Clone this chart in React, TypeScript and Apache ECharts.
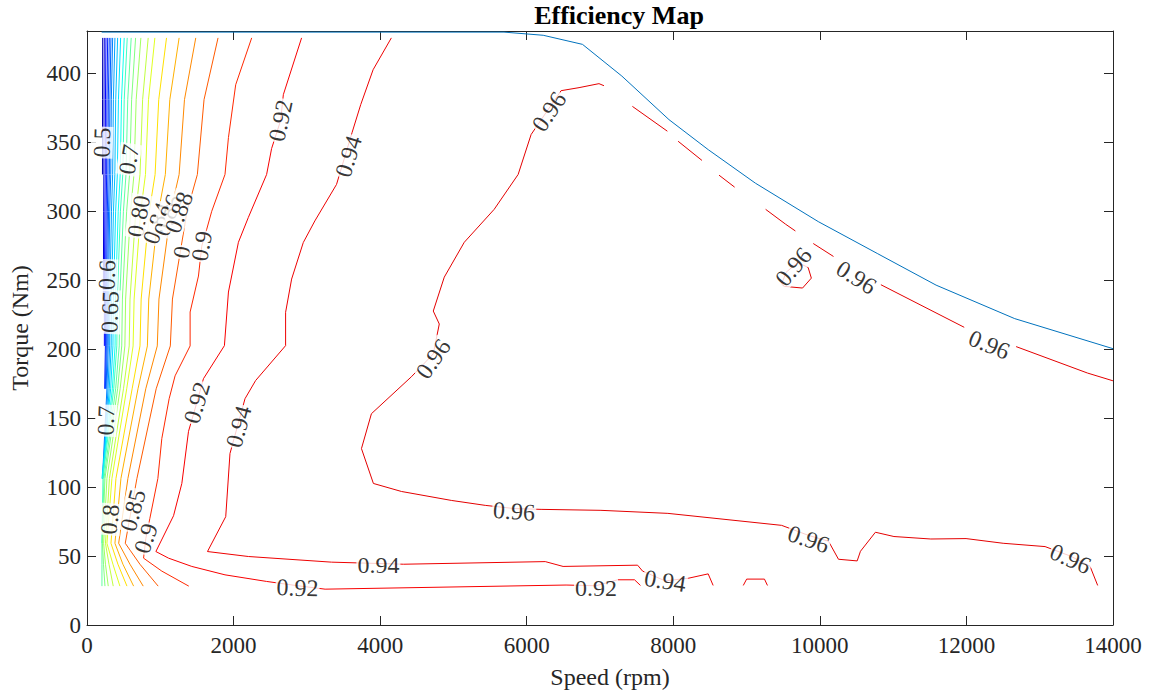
import { useEffect, useRef } from 'react';
import * as echarts from 'echarts';

const FONT = "'Liberation Serif', 'Times New Roman', Times, serif";
const AXIS_COLOR = '#262626';

// Torque rows (Nm) at which the low-efficiency contour lines were read
const TORQUE_ROWS = [426.0, 381.2, 326.9, 300.2, 236.5, 202.5, 171.4, 106.3, 59.3, 44.1, 28.2];

// Speed (rpm) of each low-level contour at the torque rows above (null = line absent)
const LOW_LEVEL_SPEEDS: (number | null)[][] = [
  [214, 212, 211],
  [236, 232, 230, 227, 223],
  [259, 252, 249, 244, 237, 237],
  [282, 272, 268, 261, 252, 251, 241],
  [304, 291, 286, 278, 264, 263, 251],
  [327, 312, 305, 294, 279, 276, 261],
  [350, 332, 324, 310, 293, 290, 272, 211],
  [381, 360, 350, 334, 312, 309, 287, 214],
  [418, 392, 380, 361, 334, 330, 304, 218],
  [459, 429, 414, 391, 360, 354, 323, 204],
  [508, 471, 453, 426, 388, 383, 346, 211],
  [549, 508, 488, 456, 414, 407, 365, 218, 204],
  [603, 556, 532, 497, 447, 440, 391, 232, 204, 204, 204],
  [663, 609, 581, 541, 483, 474, 418, 245, 211, 225, 245],
  [735, 671, 641, 594, 527, 517, 452, 272, 227, 252, 290],
  [835, 759, 723, 666, 587, 576, 498, 306, 252, 300, 358],
  [926, 839, 798, 733, 643, 629, 542, 340, 272, 354, 449],
  [1085, 979, 929, 850, 739, 723, 616, 395, 327, 422, 545],
  [1257, 1130, 1069, 976, 843, 824, 696, 463, 381, 490, 636],
  [1484, 1330, 1257, 1143, 982, 959, 802, 558, 432, 586, 767],
  [1788, 1597, 1506, 1365, 1166, 1137, 944, 681, 522, 722, 971],
];

const LOW_LEVEL_COLORS = [
  '#0000b0', '#0000d8', '#0000ff', '#0020ff', '#0040ff', '#0060ff', '#0080ff',
  '#00a0ff', '#00c0ff', '#00e0ff', '#10fff0', '#40ffc0', '#60ffa0', '#80ff80',
  '#a0ff60', '#c0ff40', '#e0ff20', '#ffe000', '#ffb000', '#ff8800', '#ff5a00',
];

// [speed rpm, torque Nm]
const CONTOUR_090: number[][] = [
  [2247, 426.0], [2029, 392.0], [1930, 353.7], [1883, 326.9], [1702, 300.2], [1634, 287.2],
  [1566, 274.9], [1521, 253.2], [1407, 227.1], [1407, 202.5], [1202, 180.8], [1121, 164.2],
  [1021, 135.3], [967, 106.3], [858, 77.4], [803, 62.9], [772, 48.5], [1021, 39.1], [1389, 28.2],
];

const CONTOUR_092: number[][] = [
  [2928, 426.0], [2679, 384.8], [2642, 366.0], [2519, 345.7], [2451, 326.9], [2202, 295.8],
  [2066, 277.7], [1930, 241.6], [1875, 202.7], [1589, 178.7], [1498, 161.3], [1385, 140.5],
  [1294, 102.7], [1181, 79.3], [940, 53.3], [1113, 48.5], [1430, 42.5], [1883, 36.4],
  [2451, 31.6], [2873, 28.5], [3249, 26.0], [6537, 29.0], [6945, 28.5], [7242, 32.8],
  [7471, 32.8], [7552, 28.7],
];

const CONTOUR_094: number[][] = [
  [4153, 426.0], [3904, 402.9], [3735, 377.6], [3618, 357.5], [3405, 319.7], [3109, 293.2],
  [2951, 277.5], [2792, 251.0], [2710, 226.9], [2710, 202.7], [2301, 177.4], [2156, 164.2],
  [1951, 124.4], [1893, 78.6], [1644, 53.3], [2202, 49.7], [3336, 45.6], [4321, 44.1],
  [6253, 46.0], [6496, 42.5], [7513, 43.4], [7581, 39.1], [7890, 32.0], [8212, 34.0],
  [8476, 37.1], [8544, 28.7],
];

const CONTOUR_094_ISLAND: number[][] = [
  [8955, 28.7], [9001, 33.3], [9244, 33.3], [9285, 28.7],
];

const CONTOUR_096: number[][] = [
  [7054, 391.3], [6986, 392.8], [6714, 389.9], [6469, 387.7], [6264, 371.8], [6060, 355.9],
  [5883, 326.9], [5556, 301.6], [5148, 277.7], [4875, 252.4], [4725, 227.8], [4807, 218.4],
  [4725, 196.7], [4426, 180.1], [3881, 153.3], [3745, 128.0], [3908, 102.7], [4290, 96.9],
  [4971, 90.4], [5434, 86.8], [5828, 84.5], [6196, 83.9], [7013, 83.2], [7926, 81.0],
  [9478, 72.3], [9846, 65.0], [10118, 60.8], [10254, 47.7], [10509, 46.5], [10554, 53.5],
  [10758, 67.3], [11011, 64.2], [11514, 62.4], [11995, 62.7], [12501, 59.3], [13073, 56.9],
  [13420, 50.0], [13686, 42.7], [13791, 28.7],
];

const CONTOUR_096_LOOP: number[][] = [
  [9478, 247.4], [9515, 245.7], [9764, 244.5], [9884, 251.7], [9840, 259.4], [9700, 263.0],
  [9540, 256.0], [9478, 247.4],
];

const CONTOUR_096_UPPER: number[][][] = [
  [[7442, 376.3], [7919, 358.3]],
  [[8066, 351.0], [8391, 337.1]],
  [[8624, 326.4], [8837, 317.7]],
  [[9260, 301.6], [9533, 290.8], [9666, 285.9]],
  [[9910, 276.8], [10186, 267.4]],
  [[10833, 246.9], [11970, 216.0]],
  [[12678, 202.0], [13653, 182.8], [13999, 177.2]],
];

const MAX_TORQUE: number[][] = [
  [200, 430.2], [5690, 430.2], [6225, 427.9], [6761, 421.3], [7298, 398.3], [7941, 366.7],
  [8477, 344.9], [9120, 320.6], [9978, 292.7], [10783, 269.6], [11586, 246.6], [12659, 222.3],
  [14000, 200.5],
];

// contour labels: text, speed, torque, angle (deg)
const CONTOUR_LABELS: [string, number, number, number][] = [
  ['0.5', 204, 350.1, 88],
  ['0.7', 572, 337.8, 80],
  ['0.80', 708, 296.6, 80],
  ['0.84', 953, 291.5, 70],
  ['0.86', 1103, 297.3, 70],
  ['0.88', 1253, 299.4, 70],
  ['0', 1294, 270.5, 80],
  ['0.9', 1566, 274.9, 80],
  ['0.92', 2642, 366.0, 78],
  ['0.94', 3568, 340.0, 73],
  ['0.96', 6305, 372.5, 56],
  ['0.6', 272, 253.9, 88],
  ['0.65', 313, 227.1, 88],
  ['0.7', 259, 148.3, 88],
  ['0.8', 313, 76.7, 85],
  ['0.85', 626, 83.2, 75],
  ['0.9', 803, 62.9, 72],
  ['0.92', 1498, 161.3, 74],
  ['0.94', 2070, 143.9, 75],
  ['0.96', 4725, 193.1, 55],
  ['0.96', 5828, 82.5, -4],
  ['0.92', 2873, 27.0, -2],
  ['0.94', 3976, 43.5, 0],
  ['0.92', 6945, 27.0, 0],
  ['0.94', 7890, 32.0, -9],
  ['0.96', 9846, 62.2, -19],
  ['0.96', 13420, 48.0, -24],
  ['0.96', 9640, 260.0, 50],
  ['0.96', 10498, 252.2, -32],
  ['0.96', 12311, 203.4, -22],
];

function lineSeries(data: number[][], color: string) {
  return {
    type: 'line',
    data,
    showSymbol: false,
    symbol: 'none',
    silent: true,
    xAxisIndex: 0,
    yAxisIndex: 0,
    lineStyle: { color, width: 1 },
    z: 2,
  };
}

export default function App() {
  const ref = useRef<HTMLDivElement>(null);

  useEffect(() => {
    if (!ref.current) return;
    const chart = echarts.init(ref.current, undefined, { renderer: 'svg' });

    const series: any[] = [];
    LOW_LEVEL_SPEEDS.forEach((speeds, i) => {
      const pts: number[][] = [];
      speeds.forEach((s, k) => {
        if (s !== null && s !== undefined) pts.push([s, TORQUE_ROWS[k]]);
      });
      series.push(lineSeries(pts, LOW_LEVEL_COLORS[i]));
    });
    series.push(lineSeries(CONTOUR_090, '#ff2800'));
    series.push(lineSeries(CONTOUR_092, '#f80000'));
    series.push(lineSeries(CONTOUR_094, '#ee0000'));
    series.push(lineSeries(CONTOUR_094_ISLAND, '#ee0000'));
    series.push(lineSeries(CONTOUR_096, '#e40000'));
    series.push(lineSeries(CONTOUR_096_LOOP, '#e40000'));
    CONTOUR_096_UPPER.forEach((seg) => series.push(lineSeries(seg, '#e40000')));
    series.push(lineSeries(MAX_TORQUE, '#0072bd'));

    series.push({
      type: 'scatter',
      silent: true,
      symbol: 'circle',
      symbolSize: 1,
      itemStyle: { color: 'rgba(0,0,0,0)' },
      z: 10,
      data: CONTOUR_LABELS.map(([text, s, t, a]) => ({
        value: [s, t],
        name: text,
        label: { rotate: a },
      })),
      label: {
        show: true,
        position: 'inside',
        formatter: '{b}',
        color: '#000',
        fontFamily: FONT,
        fontSize: 24,
        backgroundColor: '#ffffff',
        padding: [-1, 1],
      },
      labelLayout: { hideOverlap: false },
    });

    const tickCommon = {
      show: true,
      inside: true,
      length: 9,
      lineStyle: { color: AXIS_COLOR, width: 1 },
    };
    const lineCommon = { show: true, onZero: false, lineStyle: { color: AXIS_COLOR, width: 1 } };

    chart.setOption({
      animation: false,
      backgroundColor: '#ffffff',
      graphic: [
        {
          type: 'text',
          x: 619,
          y: 2,
          style: {
            text: 'Efficiency Map',
            fontFamily: FONT,
            fontWeight: 'bold',
            fontSize: 26,
            fill: '#000',
            textAlign: 'center',
            textVerticalAlign: 'top',
          },
        },
      ],
      grid: { left: 85, right: 50, top: 31, bottom: 67, containLabel: false },
      xAxis: [
        {
          type: 'value',
          min: 0,
          max: 14000,
          interval: 2000,
          position: 'bottom',
          axisLine: lineCommon,
          axisTick: tickCommon,
          splitLine: { show: false },
          axisLabel: {
            color: AXIS_COLOR,
            fontFamily: FONT,
            fontSize: 23,
            margin: 9,
            formatter: (v: number) => String(v),
          },
          name: 'Speed (rpm)',
          nameLocation: 'middle',
          nameGap: 40,
          nameTextStyle: {
            color: AXIS_COLOR,
            fontFamily: FONT,
            fontSize: 24,
            padding: [0, 0, 0, 20],
          },
        },
        {
          type: 'value',
          min: 0,
          max: 14000,
          interval: 2000,
          position: 'top',
          axisLine: lineCommon,
          axisTick: tickCommon,
          splitLine: { show: false },
          axisLabel: { show: false },
        },
      ],
      yAxis: [
        {
          type: 'value',
          min: 0,
          max: 431,
          interval: 50,
          position: 'left',
          axisLine: lineCommon,
          axisTick: tickCommon,
          splitLine: { show: false },
          axisLabel: {
            color: AXIS_COLOR,
            fontFamily: FONT,
            fontSize: 23,
            margin: 6,
            formatter: (v: number) => (v % 50 === 0 ? String(v) : ''),
          },
          name: 'Torque (Nm)',
          nameLocation: 'middle',
          nameGap: 55,
          nameRotate: 90,
          nameTextStyle: { color: AXIS_COLOR, fontFamily: FONT, fontSize: 24 },
        },
        {
          type: 'value',
          min: 0,
          max: 431,
          interval: 50,
          position: 'right',
          axisLine: lineCommon,
          axisTick: tickCommon,
          splitLine: { show: false },
          axisLabel: { show: false },
        },
      ],
      series,
    });

    return () => chart.dispose();
  }, []);

  return (
    <div
      ref={ref}
      style={{ position: 'fixed', left: 0, top: 0, width: 1163, height: 694, background: '#fff' }}
    />
  );
}
